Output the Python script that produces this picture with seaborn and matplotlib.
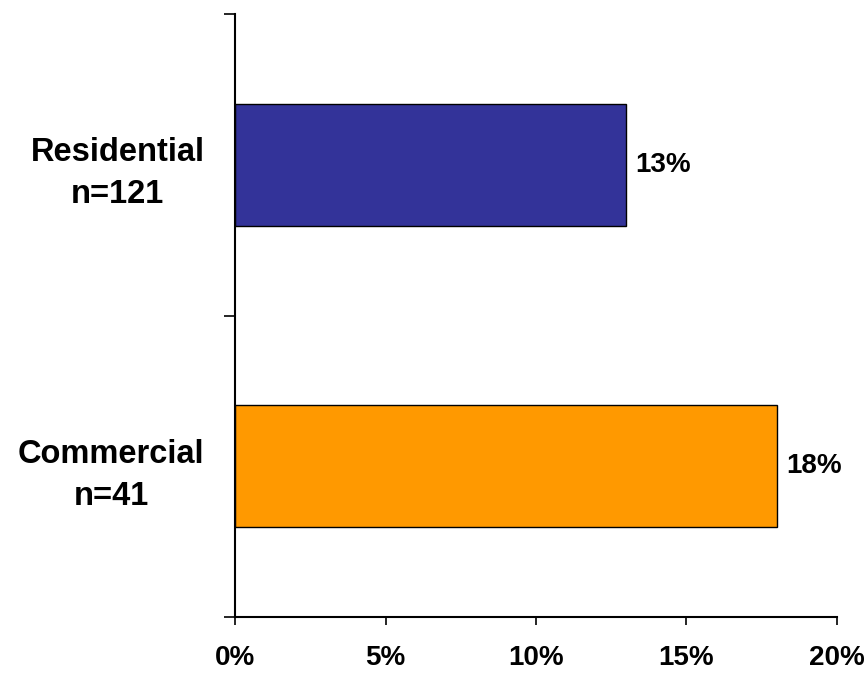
import matplotlib
matplotlib.use("Agg")
import matplotlib.pyplot as plt
from matplotlib.ticker import FixedLocator, PercentFormatter
import seaborn as sns
import pandas as pd

categories = ["Residential\nn=121", "Commercial\nn=41"]
shares = [13, 18]
colors = ["#333399", "#FF9900"]
x_ticks = [0, 5, 10, 15, 20]

sns.set_style("white")
plt.rcParams["font.family"] = ["Liberation Sans", "DejaVu Sans"]
plt.rcParams["font.weight"] = "bold"
plt.rcParams["text.color"] = "black"
plt.rcParams["xtick.color"] = "black"
plt.rcParams["ytick.color"] = "black"

df = pd.DataFrame({"segment": categories, "share": shares})

fig = plt.figure(figsize=(8.66, 6.73), dpi=100)
ax = fig.add_axes([0.2714, 0.0832, 0.6951, 0.896])

sns.barplot(data=df, x="share", y="segment", hue="segment", palette=colors,
            orient="h", width=0.405, edgecolor="black", linewidth=1.0,
            saturation=1, legend=False, ax=ax)

ax.set_xlim(0, 20)
ax.set_ylim(1.5, -0.5)
ax.set_xlabel("")
ax.set_ylabel("")

ax.xaxis.set_major_locator(FixedLocator(x_ticks))
ax.xaxis.set_major_formatter(PercentFormatter(decimals=0))
ax.tick_params(axis="x", bottom=True, direction="out", length=6, width=1.2,
               color="black", labelcolor="black", labelsize=20, pad=14.5)

# category boundaries carry the tick marks, labels sit at the bar centres
ax.yaxis.set_major_locator(FixedLocator([-0.5, 0.5, 1.5]))
ax.yaxis.set_minor_locator(FixedLocator([0, 1]))
ax.set_yticklabels([], minor=False)
ax.set_yticklabels(categories, minor=True, fontsize=23.5, fontweight="bold",
                   ha="right", multialignment="center", linespacing=1.45,
                   color="black")
ax.tick_params(axis="y", which="major", left=True, direction="out", length=8,
               width=1.2, color="black")
ax.tick_params(axis="y", which="minor", left=True, length=0, pad=22)

for side in ["top", "right"]:
    ax.spines[side].set_visible(False)
for side in ["left", "bottom"]:
    ax.spines[side].set_color("black")
    ax.spines[side].set_linewidth(1.5)

for i, v in enumerate(shares):
    ax.text(v + 0.3, i, f"{v}%", va="center", ha="left", fontsize=20,
            fontweight="bold", color="black")

fig.savefig("out.png", dpi=100)
